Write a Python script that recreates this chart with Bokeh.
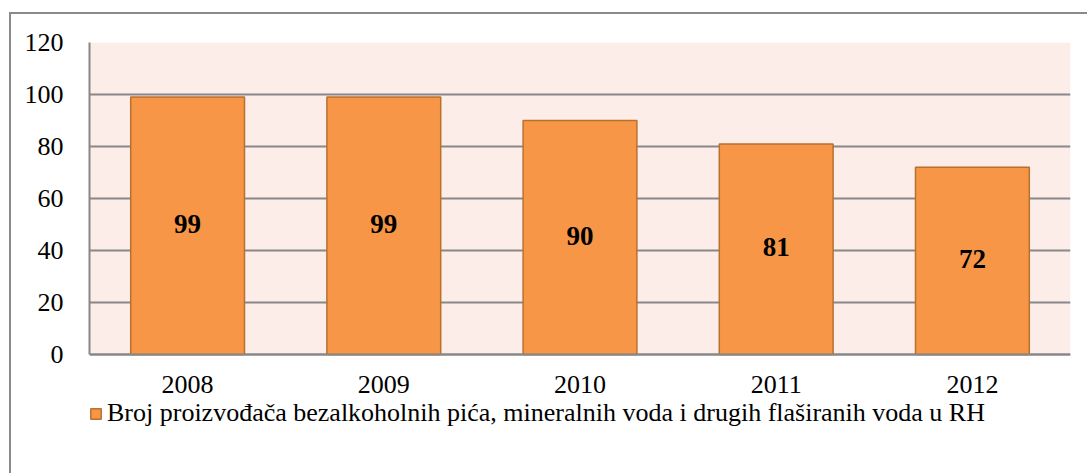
from bokeh.plotting import figure
from bokeh.models import ColumnDataSource, FactorRange, Range1d, Legend, LegendItem, FixedTicker, BoxAnnotation
from bokeh.core.properties import value
from bokeh.embed import file_html
from bokeh.resources import INLINE

years = ["2008", "2009", "2010", "2011", "2012"]
counts = [99, 99, 90, 81, 72]
y_ticks = [0, 20, 40, 60, 80, 100, 120]
series_name = "Broj proizvođača bezalkoholnih pića, mineralnih voda i drugih flaširanih voda u RH"

src = ColumnDataSource(dict(x=years, top=counts, mid=[c / 2 for c in counts], lab=[str(c) for c in counts]))

FONT = "Liberation Serif"
W, H = 1087, 473
Y_MAX = 120
# frame runs from y=42 (120) down to the canvas bottom; value 0 sits at y=354
px_per_unit = (354 - 42) / Y_MAX
y_min = -(H - 354) / px_per_unit

p = figure(width=W, height=H, x_range=FactorRange(*years, range_padding=0), y_range=Range1d(y_min, Y_MAX),
           output_backend="svg", toolbar_location=None,
           min_border_left=89, min_border_right=W - 1070, min_border_top=42, min_border_bottom=0)
# outer chart border (left + top) drawn as host background, canvas border area transparent
p.styles = {
    "background-color": "white",
    "background-image": "linear-gradient(#8a8a8a, #8a8a8a), linear-gradient(#8a8a8a, #8a8a8a)",
    "background-size": "2px 100%, 100% 2px",
    "background-position": "9px 12px, 9px 12px",
    "background-repeat": "no-repeat",
}
p.background_fill_color = "white"
p.border_fill_alpha = 0
p.outline_line_color = None

# plot-area background only over the value range
p.add_layout(BoxAnnotation(bottom=0, top=Y_MAX, fill_color="#FCEDE8", fill_alpha=1, line_color=None, level="image"))

r = p.vbar(x="x", top="top", width=0.58, source=src, fill_color="#F79646", line_color="#B8702F", line_width=1.5)
p.text(x="x", y="mid", text="lab", source=src, text_align="center", text_baseline="middle", y_offset=-2,
       text_font=value(FONT), text_font_style="bold", text_font_size="27px", text_color="black")

p.ygrid.grid_line_color = "#888888"
p.ygrid.grid_line_width = 2
p.ygrid.ticker = FixedTicker(ticks=y_ticks)
p.xgrid.grid_line_color = None

p.yaxis.ticker = FixedTicker(ticks=y_ticks)
p.yaxis.bounds = (0, Y_MAX)
p.xaxis.fixed_location = 0
for ax in (p.xaxis[0], p.yaxis[0]):
    ax.axis_line_color = "#888888"
    ax.axis_line_width = 2
    ax.major_tick_line_color = None
    ax.minor_tick_line_color = None
    ax.major_label_text_font = FONT
    ax.major_label_text_font_size = "26px"
    ax.major_label_text_color = "black"
p.yaxis.major_label_standoff = 20
p.xaxis.major_label_standoff = 15

legend = Legend(items=[LegendItem(label=series_name, renderers=[r])], location=(0, 45),
                orientation="horizontal", border_line_color=None, background_fill_alpha=0,
                label_text_font=FONT, label_text_font_size="26px", label_text_color="black",
                glyph_width=13, glyph_height=13, label_standoff=5, padding=0, margin=0)
p.add_layout(legend, "center")

open("out.html", "w").write(file_html(p, INLINE))
